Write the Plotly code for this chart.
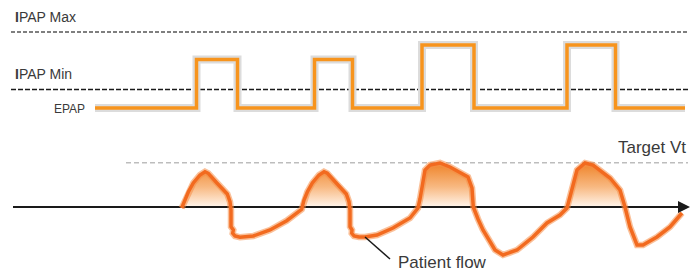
import numpy as np
import plotly.graph_objects as go

# ---- data (time units along x, signal units along y; flow axis at 0) ----
pressure_time = [95, 196.5, 237.5, 314.5, 352.5, 422, 474, 567, 615.5, 685]
pressure_level = [99, 147.5, 99, 147.5, 99, 162, 99, 162, 99, 99]

ipap_max = 175
ipap_min = 117.5
target_vt = 44.3

flow_time = [181.7, 185, 188.3, 193.3, 200, 205, 208.3, 216.7, 223.3, 227.3, 230, 231, 231, 233.3, 232.7, 235,
             240, 253.3, 270, 286.7, 301.7,
             304, 307.3, 312.3, 319, 324, 327.3, 335.7, 342.3, 346.3, 349, 350, 350, 352, 351.7, 354,
             359, 365, 377, 393, 410, 418,
             420, 422, 425, 430, 440, 450, 468, 472, 473.3,
             478, 483, 495, 503, 517, 533, 547, 560, 567,
             569.5, 572, 577, 585, 593, 610, 620, 625,
             630, 637, 643, 657, 670, 682]
flow_value = [-1, 7, 15, 24, 32, 35.3, 33.7, 24.3, 17.7, 13, 5.3, -3, -19.7, -23, -26.3, -29,
              -30.3, -29, -23, -13.7, -2.3,
              7, 15, 24, 32, 35.3, 33.7, 24.3, 17.7, 13, 5.3, -3, -19.7, -23, -26.3, -29,
              -30, -30, -28, -21, -11, -1,
              8, 20, 37, 42, 44, 40, 30, 19, 0,
              -12, -23, -43, -48, -43, -30, -16, -8, -1,
              9, 20, 37, 44, 42, 29, 17, 0,
              -20, -38, -38, -30, -20, -6]

axis_start, axis_end = 13, 690
line_start, line_end = 11, 688
target_start = 126

fig = go.Figure()

# fill under positive flow
fig.add_trace(go.Scatter(
    x=flow_time, y=list(np.maximum(np.array(flow_value), 0)),
    mode="lines", line=dict(width=0), fill="tozeroy",
    fillgradient=dict(type="vertical", start=0, stop=40,
                      colorscale=[[0, "rgba(255,245,236,1)"], [0.5, "rgba(248,185,130,1)"], [1, "rgba(240,140,55,1)"]]),
    hoverinfo="skip", showlegend=False))

# reference lines
fig.add_trace(go.Scatter(x=[line_start, line_end], y=[ipap_max, ipap_max], mode="lines",
                         line=dict(color="#555555", width=1.6, dash="4px,2px"), showlegend=False))
fig.add_trace(go.Scatter(x=[line_start, line_end], y=[ipap_min, ipap_min], mode="lines",
                         line=dict(color="#1a1a1a", width=1.3, dash="5px,2px"), showlegend=False))
fig.add_trace(go.Scatter(x=[target_start, line_end], y=[target_vt, target_vt], mode="lines",
                         line=dict(color="#bdbdbd", width=1.6, dash="5px,3px"), showlegend=False))

# flow axis
fig.add_trace(go.Scatter(x=[axis_start, axis_end - 8], y=[0, 0], mode="lines",
                         line=dict(color="#1a1a1a", width=2), showlegend=False))
fig.add_annotation(x=axis_end, y=0, ax=axis_end - 10, ay=0, axref="x", ayref="y",
                   xref="x", yref="y", text="", showarrow=True, arrowhead=2, arrowsize=1.2,
                   arrowwidth=2, arrowcolor="#1a1a1a")

# pressure line with halo
fig.add_trace(go.Scatter(x=pressure_time, y=pressure_level, mode="lines", line_shape="hv",
                         line=dict(color="#dcdcdc", width=8), showlegend=False))
fig.add_trace(go.Scatter(x=pressure_time, y=pressure_level, mode="lines", line_shape="hv",
                         line=dict(color="#F7941D", width=3.5), showlegend=False))

# flow line
fig.add_trace(go.Scatter(x=flow_time, y=flow_value, mode="lines",
                         line=dict(color="rgba(246,140,70,0.55)", width=6.5), showlegend=False))
fig.add_trace(go.Scatter(x=flow_time, y=flow_value, mode="lines",
                         line=dict(color="#F26A1F", width=3.5), showlegend=False))

# leader line
fig.add_shape(type="line", x0=365, y0=-30, x1=390, y1=-52, line=dict(color="#1a1a1a", width=1.5))

font = "Liberation Sans, Arial, sans-serif"
def label(x, y, text, size, anchor="left"):
    fig.add_annotation(x=x, y=y, text=text, showarrow=False, xanchor=anchor, yanchor="middle",
                       font=dict(family=font, size=size, color="#3a3a3a"))

label(13, 190, "<b>I</b>PAP Max", 14)
label(13, 133, "<b>I</b>PAP Min", 14)
label(52, 98, "EPAP", 12)
label(688, 60, "Target Vt", 17, "right")
label(396, -55, "Patient flow", 17)

fig.update_xaxes(range=[0, 696], visible=False)
fig.update_yaxes(range=[-66, 207], visible=False)
fig.update_layout(width=696, height=273, margin=dict(l=0, r=0, t=0, b=0),
                  plot_bgcolor="white", paper_bgcolor="white", showlegend=False)

fig.write_html("out.html", config={"displayModeBar": False},
               post_script="document.body.style.margin='0';document.body.style.overflow='hidden';")
